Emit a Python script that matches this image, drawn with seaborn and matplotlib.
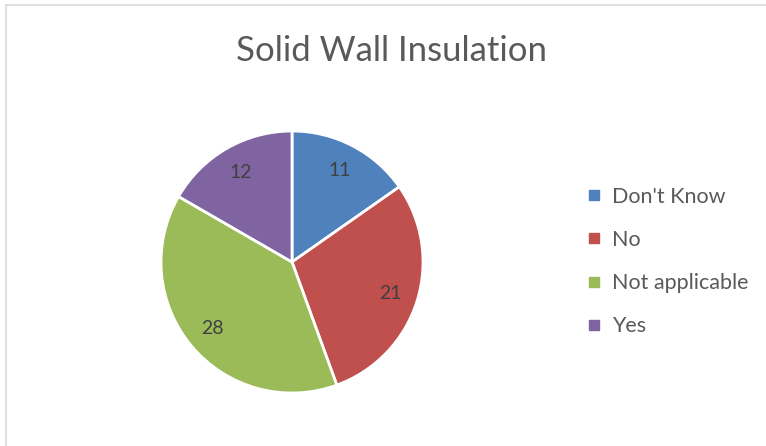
import matplotlib
matplotlib.use("Agg")
import matplotlib.pyplot as plt
import seaborn as sns
from matplotlib.lines import Line2D

categories = ["Don't Know", "No", "Not applicable", "Yes"]
values = [11, 21, 28, 12]
colors = ["#4F81BD", "#C0504D", "#9BBB59", "#8064A2"]
title = "Solid Wall Insulation"

sns.set_theme(style="white")
plt.rcParams['font.family'] = ['Lato', 'DejaVu Sans']
text_color = "#595959"

fig = plt.figure(figsize=(7.66, 4.46), dpi=100)
ax = fig.add_axes([(292 - 131) / 766, (446 - 262 - 131) / 446, 262 / 766, 262 / 446])

wedges, texts, autotexts = ax.pie(
    values, colors=colors, startangle=90, counterclock=False,
    autopct=lambda p: f"{round(p * sum(values) / 100):d}", pctdistance=0.79,
    wedgeprops=dict(edgecolor="white", linewidth=2),
    textprops=dict(color="#404040", fontsize=14))
ax.set_xlim(-1, 1)
ax.set_ylim(-1, 1)
ax.set_aspect("equal")
ax.axis("off")

fig.text(391 / 766, 1 - 51 / 446, title, ha="center", va="center",
         fontsize=25, color=text_color)

handles = [Line2D([0], [0], marker="s", linestyle="none", markersize=7,
                  markerfacecolor=c, markeredgecolor=c) for c in colors]
fig.legend(handles, categories, loc="upper left",
           bbox_to_anchor=(575 / 766, 1 - 178 / 446), frameon=False,
           fontsize=15.5, labelcolor=text_color, handletextpad=0.3,
           labelspacing=1.08, handlelength=1.0, borderpad=0.4, borderaxespad=0)

# chart border (left and top visible)
fig.add_artist(plt.Line2D([6 / 766, 6 / 766], [0, 1 - 5 / 446], color="#D9D9D9", lw=1.2, transform=fig.transFigure))
fig.add_artist(plt.Line2D([6 / 766, 1], [1 - 5 / 446, 1 - 5 / 446], color="#D9D9D9", lw=1.2, transform=fig.transFigure))

fig.savefig("out.png", dpi=100, facecolor="white")
